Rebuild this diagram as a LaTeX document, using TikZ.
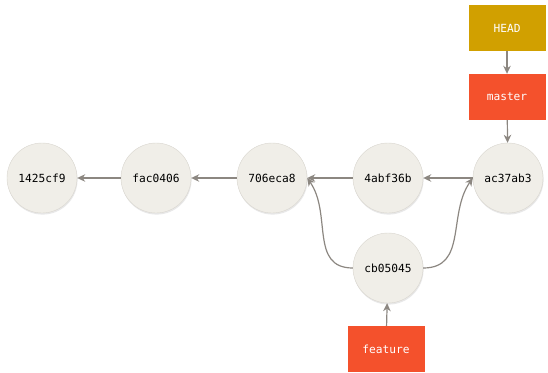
\documentclass[tikz,border=0pt]{standalone}
\usepackage{fontspec}
\setmonofont{DejaVu Sans Mono}
\usepackage{tikz}
\usetikzlibrary{arrows.meta,positioning,shadows}
\definecolor{CommitFill}{HTML}{F0EEE8}
\definecolor{CommitLine}{HTML}{D8D5CE}
\definecolor{ArrowGrey}{HTML}{8C8781}
\definecolor{HeadGold}{HTML}{D1A000}
\definecolor{BranchRed}{HTML}{F4512C}

\begin{document}
\begin{tikzpicture}[
    x=1pt,y=-1pt,
    cnode/.style={circle,draw=CommitLine,fill=CommitFill,minimum size=70pt,inner sep=0pt,
      font=\ttfamily\fontsize{11.2}{13}\selectfont,
      drop shadow={opacity=0.18,shadow xshift=0.6pt,shadow yshift=-1.6pt}},
    bnode/.style={rectangle,minimum width=77pt,minimum height=46pt,inner sep=0pt,
      text=white,font=\ttfamily\fontsize{11.2}{13}\selectfont},
    parent/.style={draw=ArrowGrey,line width=1.2pt,-{Stealth[length=8pt,width=7.5pt,inset=2.5pt]}},
  ]
  \useasboundingbox (0,0) rectangle (548,372);
  % Commits, oldest on the left
  \node[cnode] (c1425) at (42,178) {1425cf9};
  \node[cnode] (cfac0) at (156,178) {fac0406};
  \node[cnode] (c706e) at (272,178) {706eca8};
  \node[cnode] (c4abf) at (388,178) {4abf36b};
  \node[cnode] (cac37) at (508,178) {ac37ab3};
  \node[cnode] (ccb05) at (388,268) {cb05045};
  % Refs
  \node[bnode,fill=HeadGold] (head) at (507,28) {HEAD};
  \node[bnode,fill=BranchRed] (master) at (507,97) {master};
  \node[bnode,fill=BranchRed] (feature) at (386,349) {feature};
  % Parent pointers
  \draw[parent] (cfac0) -- (c1425);
  \draw[parent] (c706e) -- (cfac0);
  \draw[parent] (c4abf) -- (c706e);
  \draw[parent] (cac37) -- (c4abf);
  \draw[parent] (ccb05.west) to[out=180,in=-55,looseness=1.1] (c706e.east);
  \draw[parent] (ccb05.east) to[out=0,in=235,looseness=1.1] (cac37.west);
  % Ref pointers
  \draw[parent] (head) -- (master);
  \draw[parent] (master) -- (cac37);
  \draw[parent] (feature) -- (ccb05);
\end{tikzpicture}
\end{document}
